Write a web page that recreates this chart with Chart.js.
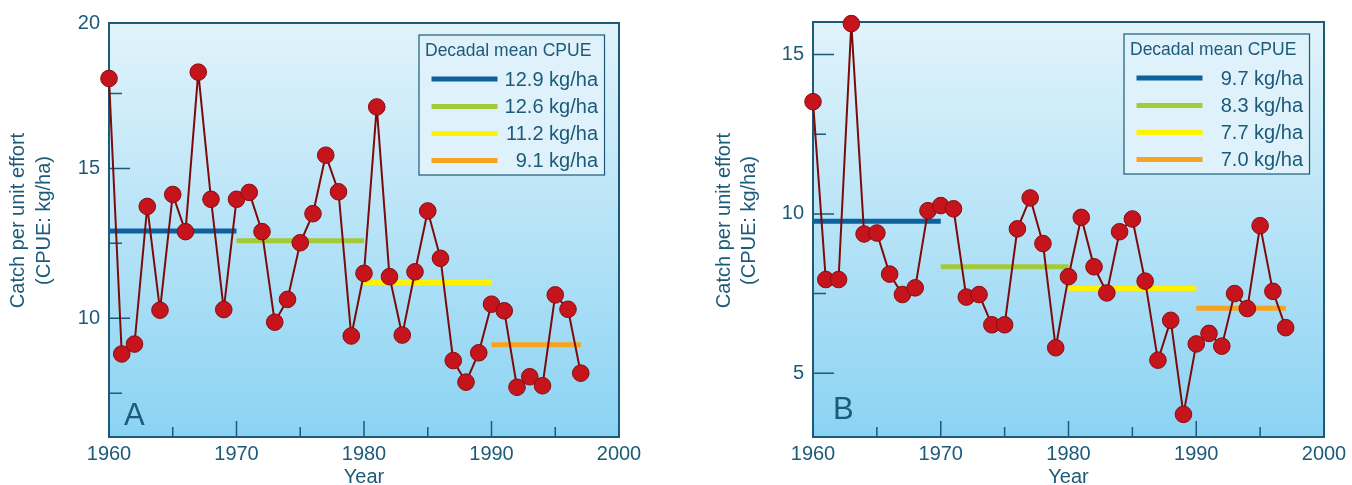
<!DOCTYPE html>
<html><head><meta charset="utf-8">
<script src="https://cdn.jsdelivr.net/npm/chart.js@4.4.0/dist/chart.umd.min.js"></script>
<style>
html,body{margin:0;padding:0;background:#fff;overflow:hidden}
#wrap{position:relative;width:1352px;height:485px}
canvas{position:absolute;top:0}
#cA{left:0}
#cB{left:676px}
</style></head><body>
<div id="wrap"><canvas id="cA" width="676" height="485"></canvas><canvas id="cB" width="676" height="485"></canvas></div>
<script>
// ---------------- data ----------------
const years = [1960,1961,1962,1963,1964,1965,1966,1967,1968,1969,
               1970,1971,1972,1973,1974,1975,1976,1977,1978,1979,
               1980,1981,1982,1983,1984,1985,1986,1987,1988,1989,
               1990,1991,1992,1993,1994,1995,1996,1997];
const cpueA = [18.0,8.81,9.14,13.73,10.27,14.13,12.89,18.21,13.97,10.29,
               13.97,14.2,12.89,9.87,10.63,12.52,13.49,15.44,14.22,9.41,
               11.5,17.05,11.39,9.44,11.55,13.58,12.0,8.59,7.87,8.85,
               10.47,10.25,7.7,8.05,7.75,10.78,10.3,8.17];
const cpueB = [13.52,7.94,7.94,15.97,9.37,9.4,8.11,7.47,7.68,10.1,
               10.26,10.16,7.39,7.47,6.52,6.52,9.53,10.5,9.07,5.8,
               8.03,9.89,8.34,7.52,9.44,9.84,7.89,5.41,6.66,3.71,
               5.92,6.25,5.85,7.5,7.03,9.63,7.57,6.43];
const decadeStart = [1960,1970,1980,1990];
const decadeEnd   = [1970,1980,1990,1997];
const decadeMeanA = [12.91,12.59,11.19,9.12];
const decadeMeanB = [9.77,8.34,7.66,7.04];
const decadeLabelsA = ['12.9 kg/ha','12.6 kg/ha','11.2 kg/ha','9.1 kg/ha'];
const decadeLabelsB = ['9.7 kg/ha','8.3 kg/ha','7.7 kg/ha','7.0 kg/ha'];
const legendTitle = 'Decadal mean CPUE';
const xTickValues = [1960,1970,1980,1990,2000];
const xTickLabels = ['1960','1970','1980','1990','2000'];
const xMinorTicks = [1965,1975,1985,1995];
const xMajorInner = [1970,1980,1990];
const yTickValuesA = [10,15,20];
const yTickLabelsA = ['10','15','20'];
const yMinorA = [7.5,12.5,17.5];
const yTickValuesB = [5,10,15];
const yTickLabelsB = ['5','10','15'];
const yMinorB = [7.5,12.5];
const yTitle = ['Catch per unit effort','(CPUE: kg/ha)'];
const xTitle = 'Year';

// ---------------- style ----------------
const FONT = "'Liberation Sans', Arial, sans-serif";
const TXT = '#1c5a7a';
const FRAME = '#1b5a78';
const decadeColors = ['#0d619c','#a3cb38','#fff200','#f6a31f'];

const decoPlugin = {
  id: 'deco',
  beforeDatasetsDraw(chart, args, o) {
    const {ctx, chartArea: a, scales: {x, y}} = chart;
    ctx.save();
    const g = ctx.createLinearGradient(0, a.top, 0, a.bottom);
    g.addColorStop(0, '#e1f3fb');
    g.addColorStop(1, '#8bd3f3');
    ctx.fillStyle = g;
    ctx.fillRect(a.left, a.top, a.right - a.left, a.bottom - a.top);
    // inward ticks
    ctx.strokeStyle = FRAME; ctx.lineWidth = 1.5;
    ctx.beginPath();
    o.yMajor.forEach(v => { const p = y.getPixelForValue(v); if (p > a.top + 2 && p < a.bottom - 2) { ctx.moveTo(a.left, p); ctx.lineTo(a.left + 21, p); } });
    o.yMinor.forEach(v => { const p = y.getPixelForValue(v); ctx.moveTo(a.left, p); ctx.lineTo(a.left + 13, p); });
    xMajorInner.forEach(v => { const p = x.getPixelForValue(v); ctx.moveTo(p, a.bottom); ctx.lineTo(p, a.bottom - 16); });
    xMinorTicks.forEach(v => { const p = x.getPixelForValue(v); ctx.moveTo(p, a.bottom); ctx.lineTo(p, a.bottom - 10); });
    ctx.stroke();
    // frame
    ctx.lineWidth = 2;
    ctx.strokeRect(a.left, a.top, a.right - a.left, a.bottom - a.top);
    // legend box
    const bl = a.right - 200, br = a.right - 14.5, bt = a.top + 12, bb = a.top + 152;
    ctx.fillStyle = '#dff2fb';
    ctx.fillRect(bl, bt, br - bl, bb - bt);
    ctx.lineWidth = 1.2; ctx.strokeStyle = FRAME;
    ctx.strokeRect(bl, bt, br - bl, bb - bt);
    ctx.fillStyle = TXT;
    ctx.textBaseline = 'middle';
    ctx.textAlign = 'left';
    ctx.font = '17.5px ' + FONT;
    ctx.fillText(legendTitle, bl + 6, bt + 16.5);
    const rows = [44, 71.5, 98.5, 125.5];
    ctx.font = '20px ' + FONT;
    ctx.textAlign = 'right';
    o.labels.forEach((t, i) => {
      ctx.fillStyle = decadeColors[i];
      ctx.fillRect(bl + 12.5, bt + rows[i] - 2.5, 66, 5);
      ctx.fillStyle = TXT;
      ctx.fillText(t, br - 6.5, bt + rows[i] + 1);
    });
    // panel letter
    ctx.textAlign = 'left'; ctx.textBaseline = 'alphabetic';
    ctx.font = '31px ' + FONT;
    ctx.fillText(o.letter, a.left + o.letterDx, a.bottom - o.letterDy);
    // y title
    ctx.font = '20px ' + FONT;
    ctx.textAlign = 'center'; ctx.textBaseline = 'middle';
    o.titleX.forEach((tx, i) => {
      ctx.save();
      ctx.translate(tx, o.titleY);
      ctx.rotate(-Math.PI / 2);
      ctx.fillText(yTitle[i], 0, 0);
      ctx.restore();
    });
    ctx.restore();
  }
};

function makeChart(id, values, means, labels, yMin, yMax, yTicks, yTickLabels, yMinor, yWidth, pad, letter, letterDx, letterDy, titleX) {
  const datasets = [{
    data: years.map((yr, i) => ({x: yr, y: values[i]})),
    borderColor: '#7b0b0b', borderWidth: 2,
    pointRadius: 8.3, pointBackgroundColor: '#c5141c', pointBorderColor: '#8a0c10', pointBorderWidth: 1,
    clip: false, order: 0, tension: 0
  }];
  means.forEach((m, i) => datasets.push({
    data: [{x: decadeStart[i], y: m}, {x: decadeEnd[i], y: m}],
    borderColor: decadeColors[i], borderWidth: 5, borderCapStyle: 'butt',
    pointRadius: 0, order: 1, clip: false
  }));
  return new Chart(document.getElementById(id), {
    type: 'line',
    data: {datasets},
    plugins: [decoPlugin],
    options: {
      responsive: false, animation: false, events: [],
      layout: {padding: pad},
      plugins: {
        legend: {display: false}, tooltip: {enabled: false},
        deco: {yMajor: yTicks, yMinor, labels, letter, letterDx, letterDy, titleX, titleY: 220.5}
      },
      scales: {
        x: {
          type: 'linear', min: 1960, max: 2000,
          afterBuildTicks: s => { s.ticks = xTickValues.map(v => ({value: v})); },
          ticks: {callback: (v, i) => xTickLabels[i], font: {family: FONT, size: 20, lineHeight: 1.2}, color: TXT, padding: 5, maxRotation: 0, autoSkip: false},
          grid: {display: false, drawTicks: false}, border: {display: false},
          title: {display: true, text: xTitle, color: TXT, font: {family: FONT, size: 20, lineHeight: 1}, padding: {top: 0, bottom: -2}},
          afterFit: s => { s.height = 48; }
        },
        y: {
          type: 'linear', min: yMin, max: yMax,
          afterBuildTicks: s => { s.ticks = yTicks.map(v => ({value: Math.min(v, yMax)})); },
          ticks: {callback: (v, i) => yTickLabels[i], font: {family: FONT, size: 20}, color: TXT, padding: 9, autoSkip: false},
          grid: {display: false, drawTicks: false}, border: {display: false},
          afterFit: s => { s.width = yWidth; }
        }
      }
    }
  });
}

makeChart('cA', cpueA, decadeMeanA, decadeLabelsA, 6.04, 19.85, yTickValuesA, yTickLabelsA, yMinorA, 109,
  {left: 0, top: 23, right: 57, bottom: 0}, 'A', 15, 12, [18.5, 44.5]);
makeChart('cB', cpueB, decadeMeanB, decadeLabelsB, 3.0, 16.02, yTickValuesB, yTickLabelsB, yMinorB, 137,
  {left: 0, top: 22, right: 28, bottom: 0}, 'B', 20, 18, [48, 73]);
</script>
</body></html>
